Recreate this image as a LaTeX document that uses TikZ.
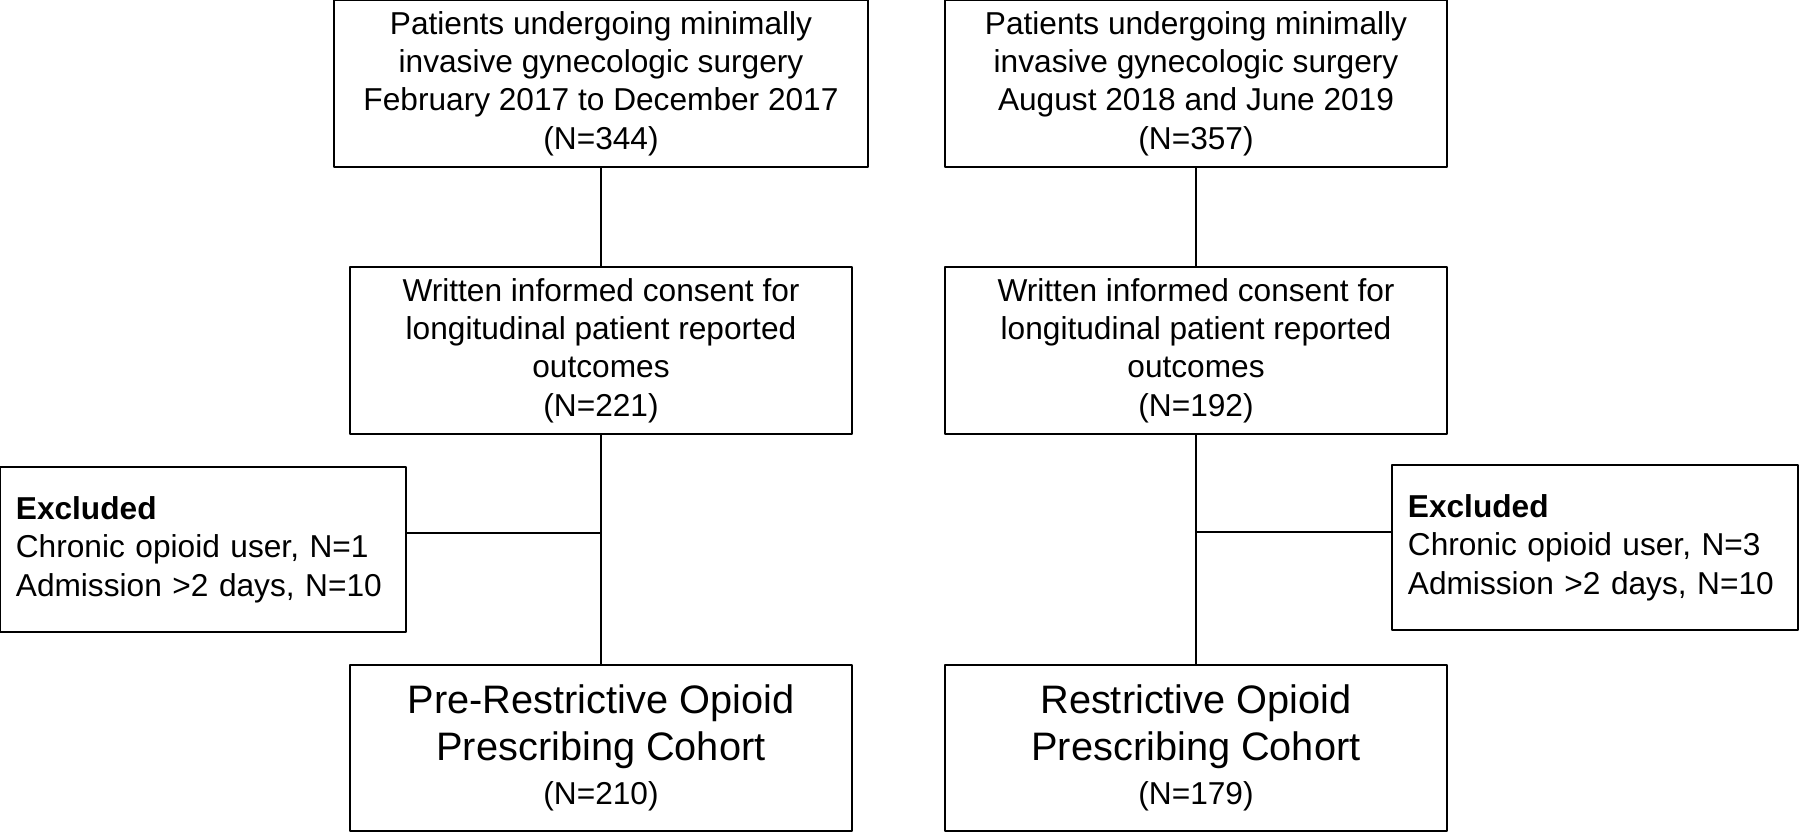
\documentclass[tikz,border=0pt]{standalone}
\usepackage{fontspec}
\setmainfont{Liberation Sans}
\def\cohfont{\fontsize{11.3}{13.4}\selectfont}
\begin{document}
\begin{tikzpicture}[x=0.01cm, y=-0.01cm, line join=round,
    box/.style={draw, line width=0.7pt, minimum width=5.02cm, minimum height=1.67cm,
        inner sep=0pt, align=center, font=\fontsize{9}{10.9}\selectfont},
    exbox/.style={draw, line width=0.7pt, text width=3.74cm, inner xsep=0.16cm,
        minimum height=1.65cm, align=left, font=\fontsize{9}{10.9}\selectfont},
    link/.style={line width=0.35pt}]
    \def\xl{601} \def\xr{1196} % centres of the two columns
    \useasboundingbox (0,0) rectangle (1800,832);
    % left column
    \node[box, minimum width=5.34cm] (patL) at (\xl,83.5) {Patients undergoing minimally\\invasive gynecologic surgery\\February 2017 to December 2017\\(N=344)};
    \node[box] (consL) at (\xl,350.5) {Written informed consent for\\longitudinal patient reported\\outcomes\\(N=221)};
    \node[exbox] (exclL) at (203,549.5) {\textbf{Excluded}\\Chronic opioid user, N=1\\Admission >2 days, N=10};
    \node[box, minimum height=1.66cm] (cohL) at (\xl,748) {\cohfont Pre-Restrictive Opioid\\[2.5pt]\cohfont Prescribing Cohort\\[1.6pt](N=210)};
    % right column
    \node[box] (patR) at (\xr,83.5) {Patients undergoing minimally\\invasive gynecologic surgery\\August 2018 and June 2019\\(N=357)};
    \node[box] (consR) at (\xr,350.5) {Written informed consent for\\longitudinal patient reported\\outcomes\\(N=192)};
    \node[exbox] (exclR) at (1595,547.5) {\textbf{Excluded}\\Chronic opioid user, N=3\\Admission >2 days, N=10};
    \node[box, minimum height=1.66cm] (cohR) at (\xr,748) {\cohfont Restrictive Opioid\\[2.5pt]\cohfont Prescribing Cohort\\[1.6pt](N=179)};
    % connectors
    \coordinate (jL) at (\xl,533);
    \coordinate (jR) at (\xr,532);
    \draw[link] (patL) -- (consL);
    \draw[link] (consL) -- (cohL);
    \draw[link] (exclL.east |- jL) -- (jL);
    \draw[link] (patR) -- (consR);
    \draw[link] (consR) -- (cohR);
    \draw[link] (jR) -- (exclR.west |- jR);
\end{tikzpicture}
\end{document}
